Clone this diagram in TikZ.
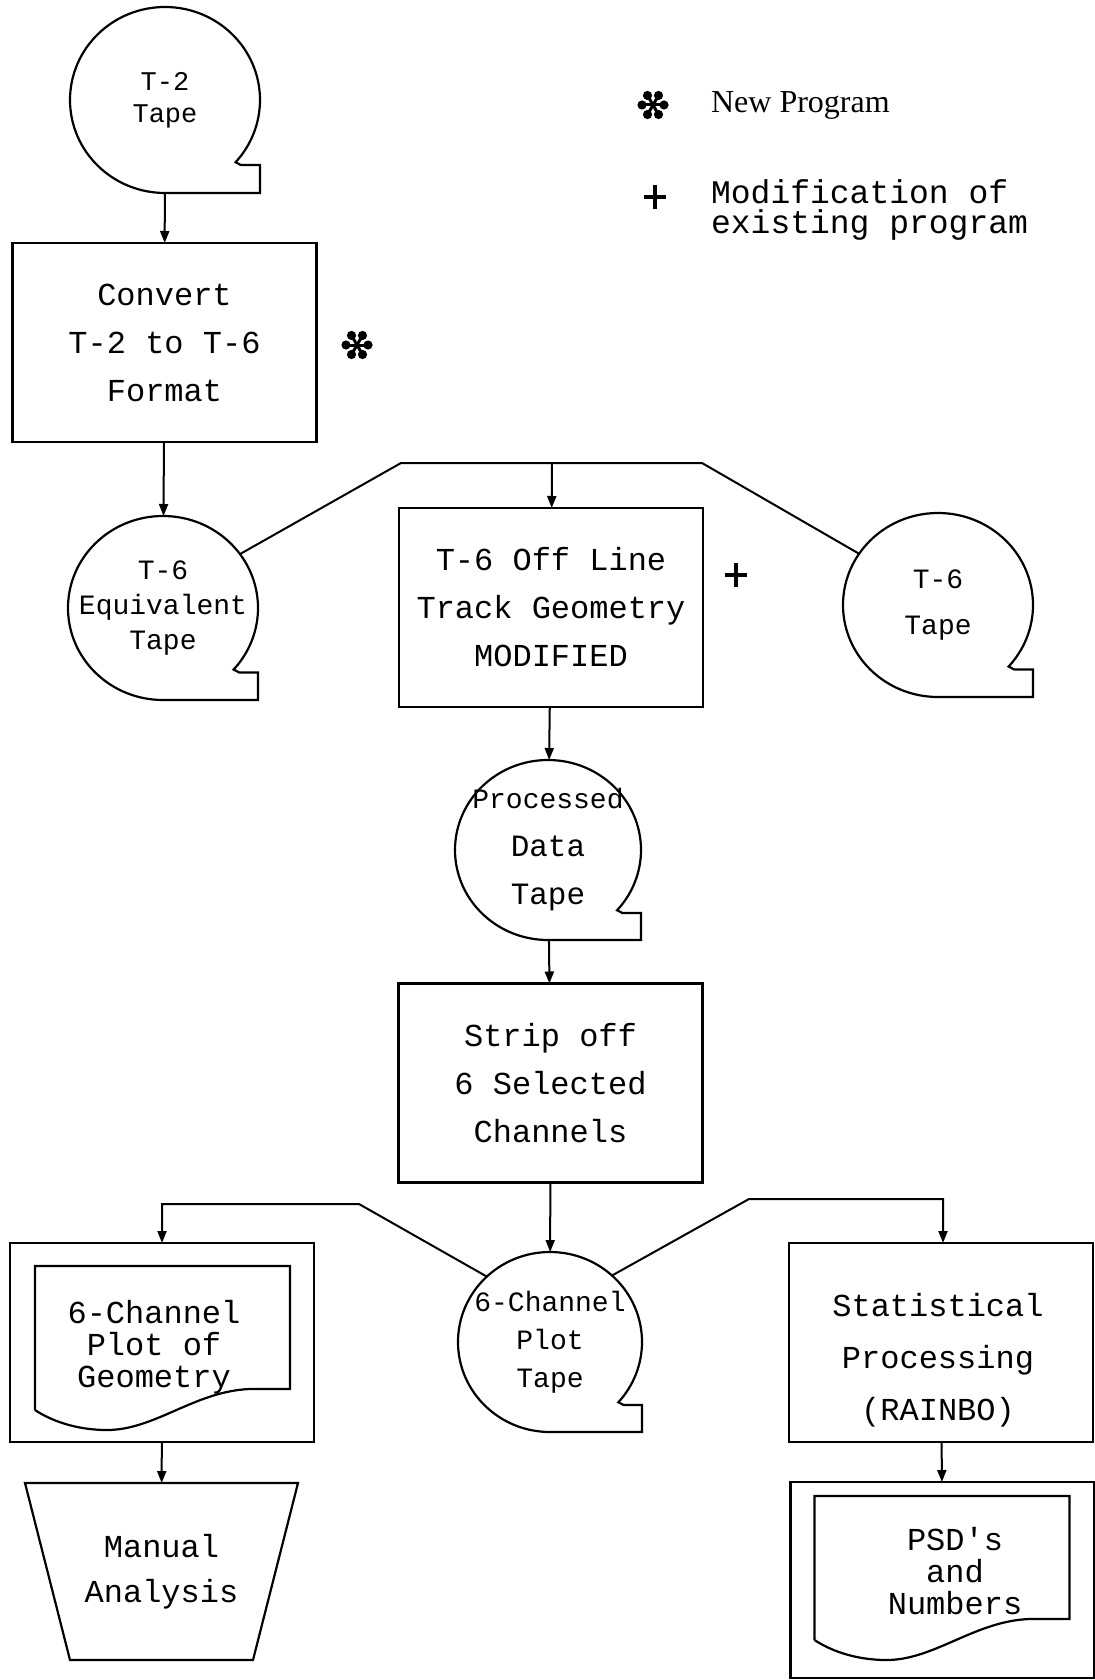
\documentclass[tikz,border=0pt]{standalone}
\usepackage{fontspec}
\setmainfont{Liberation Serif}
\setmonofont{Liberation Mono}
\usetikzlibrary{shapes.geometric,arrows.meta}
\def\boxwidth{152pt}
\def\boxheight{99.5pt}
% asterisk = new program, plus = modified program
\newcommand{\newprogmark}[1]{%
    \foreach \ang in {0,60,...,300} {
        \draw[line width=1.5pt] (#1) -- ++(\ang:10);
        \fill (#1) ++(\ang:11) circle[radius=2.3pt];
    }}
\newcommand{\modprogmark}[1]{%
    \draw[line width=2.4pt] (#1) ++(-11,0) -- ++(22,0);
    \draw[line width=2.4pt] (#1) ++(0,-12) -- ++(0,24);}

\begin{document}
\begin{tikzpicture}[x=0.5pt,y=-0.5pt,line width=1.1pt,>={Triangle[length=6pt,width=4.5pt]}]
    \tikzstyle{tape}=[ellipse,outer sep=0pt,inner sep=0pt,inner xsep=-16pt,align=center,font=\ttfamily\fontsize{14}{16}\selectfont]
    \tikzstyle{process}=[rectangle,draw,outer sep=0pt,minimum width=\boxwidth,minimum height=\boxheight,align=center,font=\ttfamily\fontsize{16}{24}\selectfont]
    \tikzstyle{doctext}=[align=center,font=\ttfamily\fontsize{16}{16}\selectfont]
    \tikzstyle{legend}=[anchor=west,align=left,inner sep=0pt]
    \tikzstyle{link}=[->,line width=1pt]
    \tikzstyle{bus}=[line width=1pt]

    \useasboundingbox (0,0) rectangle (1094,1680);

    % Legend
    \coordinate (newmk) at (653,105);
    \newprogmark{newmk}
    \node[legend,font=\rmfamily\fontsize{16}{18}\selectfont] (newlbl) at (710,105) {New Program};
    \coordinate (modmk) at (655,197);
    \modprogmark{modmk}
    \node[legend,font=\ttfamily\fontsize{16.5}{15}\selectfont] (modlbl) at (710,210) {Modification of\\existing program};

    % Tapes
    \node[tape,minimum width=95pt,minimum height=93pt,font=\ttfamily\fontsize{13.5}{16}\selectfont] (t2) at (165,100) {T-2\\Tape};
    \node[tape,minimum width=95pt,minimum height=92pt] (t6e) at (163,608) {T-6\\[1.5pt]Equivalent\\[1.5pt]Tape};
    \node[tape,minimum width=95pt,minimum height=92pt] (t6t) at (938,605) {T-6\\[7pt]Tape};
    \node[tape,minimum width=93pt,minimum height=90pt] (pdt) at (548,850) {Processed\\[8pt]{\fontsize{15.5}{16}\selectfont Data}\\[8pt]{\fontsize{15.5}{16}\selectfont Tape}};
    \node[tape,minimum width=92pt,minimum height=90pt] (pt) at (550,1342) {6-Channel\\[3pt]Plot\\[3pt]Tape};
    \foreach \name/\rx/\ry in {t2/95/93,t6e/95/92,t6t/95/92,pdt/93/90,pt/92/90}
        \draw[shift={(\name.center)}] (0,\ry) arc[start angle=90,end angle=402,x radius=\rx,y radius=\ry]
            -- (0.8*\rx,0.7*\ry) -- (\rx,0.7*\ry) -- (\rx,\ry) -- cycle;

    % Programs
    \node[process] (conv) at (164.5,342.5) {Convert\\T-2 to T-6\\Format};
    \node[process] (off) at (551,607.5) {T-6 Off Line\\Track Geometry\\MODIFIED};
    \node[process] (strip) at (550.5,1083) {Strip off\\6 Selected\\Channels};
    \node[process] (stat) at (941,1342.5) {};
    \node[align=center,font=\ttfamily\fontsize{16}{26}\selectfont] (stattext) at (938,1360) {Statistical\\Processing\\(RAINBO)};
    \coordinate (convmk) at (357,345);
    \newprogmark{convmk}
    \coordinate (offmk) at (736,575);
    \modprogmark{offmk}

    % Printed output
    \node[process] (geoout) at (162,1342.5) {};
    \node[process,minimum height=98pt] (psdout) at (942.5,1580) {};
    \foreach \o/\dx/\dy in {geoout/25/23,psdout/24/14}
        \draw[shift={(\o.north west)}] (\dx,\dy+144) -- (\dx,\dy) -- (\dx+255,\dy) -- (\dx+255,\dy+123)
            -- (\dx+215,\dy+123) .. controls (\dx+160,\dy+125) and (\dx+120,\dy+164) .. (\dx+72,\dy+164)
            .. controls (\dx+40,\dy+164) and (\dx+15,\dy+154) .. (\dx,\dy+144);
    \node[doctext] (geodoc) at (154,1347) {6-Channel\\Plot of\\Geometry};
    \node[doctext] (psddoc) at (955,1571) {PSD's\\and\\Numbers};

    % Manual operation
    \node[minimum width=136.5pt,minimum height=88.5pt,outer sep=0pt,align=center,font=\ttfamily\fontsize{16}{22.5}\selectfont] (manual) at (161.5,1571.5) {Manual\\Analysis};
    \draw (manual.north west) -- (manual.north east) -- ([xshift=-22.5pt]manual.south east)
        -- ([xshift=22.5pt]manual.south west) -- cycle;

    % Connect the steps
    \draw[link] (t2) -- (conv);
    \draw[link] (conv) -- (t6e);
    \draw[link] (off) -- (pdt);
    \draw[link] (pdt) -- (strip);
    \draw[link] (strip) -- (pt);
    \draw[link] (geoout) -- (manual);
    \draw[link] (stat) -- (psdout);

    % Tape inputs to the off line program
    \coordinate (topl) at (401,463);
    \coordinate (topr) at (702,463);
    \coordinate (topm) at (552,463);
    \draw[bus] (t6e.35) -- (topl) -- (topr) -- (t6t.147);
    \draw[link] (topm) -- (off);

    % Plot tape outputs
    \coordinate (botl) at (359,1204);
    \coordinate (botll) at (162,1204);
    \coordinate (botr) at (749,1199);
    \coordinate (botrr) at (943,1199);
    \draw[link] (pt.134) -- (botl) -- (botll) -- (geoout.north);
    \draw[link] (pt.47) -- (botr) -- (botrr) -- (botrr |- stat.north);
\end{tikzpicture}
\end{document}
